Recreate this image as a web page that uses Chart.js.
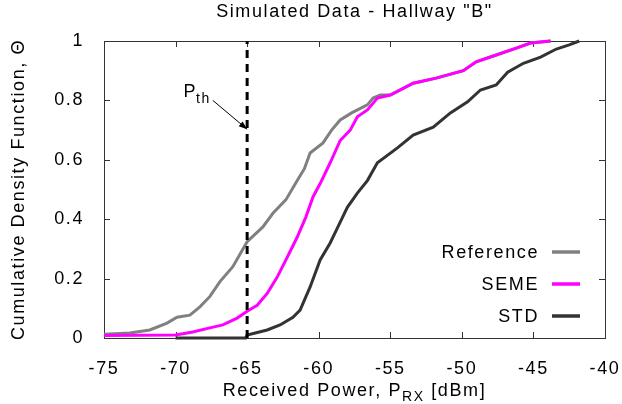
<!DOCTYPE html>
<html>
<head>
<meta charset="utf-8">
<script src="https://cdn.jsdelivr.net/npm/chart.js@4.4.0/dist/chart.umd.min.js"></script>
<style>
  html, body { margin: 0; padding: 0; background: #fff; }
  #wrap { width: 622px; height: 404px; }
</style>
</head>
<body>
<div id="wrap"><canvas id="cdfChart" width="622" height="404"></canvas></div>
<script>
// values (x in dBm, y = CDF)
const refX = [-75, -73.2, -71.8, -70.6, -69.9, -69.0, -68.3, -67.6, -66.9, -66.0, -65.0, -63.9, -63.2, -62.3, -61.5, -61.0, -60.6, -59.7, -59.1, -58.5, -57.7, -56.6, -56.2, -55.7, -55.0, -53.4, -51.8, -49.9, -49.0, -47.6, -46.2, -45.2, -43.8];
const refY = [0.013, 0.017, 0.027, 0.05, 0.07, 0.077, 0.105, 0.14, 0.19, 0.24, 0.324, 0.374, 0.42, 0.465, 0.53, 0.57, 0.623, 0.657, 0.70, 0.734, 0.758, 0.785, 0.808, 0.818, 0.818, 0.858, 0.875, 0.90, 0.93, 0.953, 0.976, 0.993, 1.0];

const semeX = [-75, -70, -68.8, -67.6, -66.7, -65.7, -65.0, -64.3, -63.6, -62.9, -62.2, -61.5, -60.9, -60.4, -59.9, -59.2, -58.5, -57.8, -57.3, -56.6, -55.9, -55.0, -53.4, -51.8, -49.9, -49.0, -47.6, -46.2, -45.2, -43.8];
const semeY = [0.008, 0.01, 0.02, 0.034, 0.044, 0.067, 0.09, 0.11, 0.15, 0.205, 0.272, 0.34, 0.407, 0.475, 0.52, 0.59, 0.665, 0.70, 0.745, 0.768, 0.808, 0.818, 0.858, 0.875, 0.90, 0.93, 0.953, 0.976, 0.993, 1.0];

const stdX = [-70, -65.1, -65, -63.6, -62.7, -61.8, -61.3, -60.6, -59.9, -59.2, -58.7, -58.0, -57.3, -56.6, -55.9, -54.5, -53.4, -52.0, -50.8, -49.6, -48.7, -47.6, -46.8, -45.7, -44.5, -43.4, -42.5, -41.8];
const stdY = [0, 0, 0.01, 0.027, 0.044, 0.07, 0.094, 0.172, 0.263, 0.32, 0.37, 0.44, 0.488, 0.53, 0.59, 0.64, 0.683, 0.71, 0.758, 0.795, 0.835, 0.852, 0.895, 0.925, 0.946, 0.973, 0.987, 1.0];

const seriesNames = ["Reference", "SEME", "STD"];
const seriesColors = ["#808080", "#ff00ff", "#333333"];

const pthValue = -65;
const pthLine = [0, 1];

const xMin = -75, xMax = -40, xStep = 5;
const yMin = 0, yMax = 1, yStep = 0.2;

const titleText = "Simulated Data - Hallway \"B\"";
const yTitle = "Cumulative Density Function, \u0398";

const toPoints = (xs, ys) => xs.map((x, i) => ({x: x, y: ys[i]}));

const FONT = "'Liberation Sans', Arial, sans-serif";
const SPACING = "1.6px";

const setSpacing = (chart) => {
  chart.ctx.letterSpacing = SPACING;
};

const overlay = {
  id: "overlay",
  beforeUpdate(chart) {
    setSpacing(chart);
  },
  beforeDraw(chart) {
    setSpacing(chart);
  },
  beforeDatasetsDraw(chart) {
    const ctx = chart.ctx;
    const a = chart.chartArea;
    const xs = chart.scales.x;
    const ys = chart.scales.y;
    ctx.save();
    ctx.strokeStyle = "#333";
    ctx.lineWidth = 1;
    ctx.strokeRect(a.left + 0.5, a.top + 0.5, a.right - a.left, a.bottom - a.top);
    ctx.beginPath();
    xs.ticks.forEach((t) => {
      const px = Math.round(xs.getPixelForValue(t.value)) + 0.5;
      ctx.moveTo(px, a.bottom);
      ctx.lineTo(px, a.bottom - 6);
      ctx.moveTo(px, a.top);
      ctx.lineTo(px, a.top + 6);
    });
    ys.ticks.forEach((t) => {
      const py = Math.round(ys.getPixelForValue(t.value)) + 0.5;
      ctx.moveTo(a.left, py);
      ctx.lineTo(a.left + 6, py);
      ctx.moveTo(a.right, py);
      ctx.lineTo(a.right - 6, py);
    });
    ctx.stroke();
    ctx.restore();
  },
  afterDraw(chart) {
    const ctx = chart.ctx;
    const a = chart.chartArea;
    const xs = chart.scales.x;
    const ys = chart.scales.y;
    const cx = (a.left + a.right) / 2;
    ctx.save();
    ctx.letterSpacing = SPACING;
    ctx.fillStyle = "#000";
    ctx.textBaseline = "alphabetic";

    // title
    ctx.font = "18px " + FONT;
    ctx.textAlign = "center";
    ctx.fillText(titleText, cx, 17);

    // y axis title
    ctx.save();
    ctx.translate(24, (a.top + a.bottom) / 2);
    ctx.rotate(-Math.PI / 2);
    ctx.fillText(yTitle, 0, 0);
    ctx.restore();

    // x axis title with subscript
    const p1 = "Received Power, P";
    const sub = "RX";
    const p2 = " [dBm]";
    ctx.textAlign = "left";
    ctx.font = "18px " + FONT;
    const w1 = ctx.measureText(p1).width;
    const w3 = ctx.measureText(p2).width;
    ctx.font = "14px " + FONT;
    const w2 = ctx.measureText(sub).width;
    const x0 = cx - (w1 + w2 + w3) / 2;
    const base = 396;
    ctx.font = "18px " + FONT;
    ctx.fillText(p1, x0, base);
    ctx.font = "14px " + FONT;
    ctx.fillText(sub, x0 + w1, base + 5);
    ctx.font = "18px " + FONT;
    ctx.fillText(p2, x0 + w1 + w2, base);

    // P_th annotation with arrow
    const lx = xs.getPixelForValue(-69.45);
    const ly = ys.getPixelForValue(0.81);
    ctx.font = "18px " + FONT;
    ctx.fillText("P", lx, ly);
    const wp = ctx.measureText("P").width;
    ctx.font = "14px " + FONT;
    ctx.fillText("th", lx + wp - 1, ly + 6);

    const ax0 = xs.getPixelForValue(-67.4);
    const ay0 = ys.getPixelForValue(0.80);
    const ax1 = xs.getPixelForValue(pthValue);
    const ay1 = ys.getPixelForValue(0.703);
    ctx.strokeStyle = "#000";
    ctx.lineWidth = 1;
    ctx.beginPath();
    ctx.moveTo(ax0, ay0);
    ctx.lineTo(ax1, ay1);
    ctx.stroke();
    const ang = Math.atan2(ay1 - ay0, ax1 - ax0);
    const hl = 9, hw = 0.35;
    ctx.beginPath();
    ctx.moveTo(ax1, ay1);
    ctx.lineTo(ax1 - hl * Math.cos(ang - hw), ay1 - hl * Math.sin(ang - hw));
    ctx.lineTo(ax1 - hl * Math.cos(ang + hw), ay1 - hl * Math.sin(ang + hw));
    ctx.closePath();
    ctx.fill();

    // legend, gnuplot style: text then sample line
    ctx.font = "18px " + FONT;
    ctx.textAlign = "right";
    ctx.textBaseline = "middle";
    chart.data.datasets.forEach((ds, i) => {
      if (!ds.inLegend) return;
      const ry = a.bottom - 86 + i * 32;
      ctx.fillText(ds.label, a.right - 66, ry + 1);
      ctx.strokeStyle = ds.borderColor;
      ctx.lineWidth = 3.5;
      ctx.beginPath();
      ctx.moveTo(a.right - 53, ry);
      ctx.lineTo(a.right - 25, ry);
      ctx.stroke();
    });
    ctx.restore();
  },
};

const datasets = [
  {label: seriesNames[0], data: toPoints(refX, refY), borderColor: seriesColors[0], order: 4, inLegend: true},
  {label: seriesNames[1], data: toPoints(semeX, semeY), borderColor: seriesColors[1], order: 3, inLegend: true},
  {label: seriesNames[2], data: toPoints(stdX, stdY), borderColor: seriesColors[2], order: 2, inLegend: true},
  {label: "Pth", data: pthLine.map((y) => ({x: pthValue, y: y})), borderColor: "#000", borderDash: [8, 6], order: 1, inLegend: false},
].map((d) => Object.assign({
  showLine: true,
  pointRadius: 0,
  borderWidth: 3,
  fill: false,
  tension: 0,
  clip: false,
}, d));

Chart.defaults.font.family = FONT;
Chart.defaults.font.size = 18;
Chart.defaults.color = "#000";

const ctx = document.getElementById("cdfChart").getContext("2d");
const cdfChart = new Chart(ctx, {
  type: "scatter",
  data: {datasets: datasets},
  options: {
    responsive: false,
    devicePixelRatio: 1,
    animation: false,
    layout: {padding: {top: 41, right: 17, left: 0, bottom: 0}},
    plugins: {
      legend: {display: false},
      tooltip: {enabled: false},
      title: {display: false},
    },
    scales: {
      x: {
        type: "linear",
        min: xMin,
        max: xMax,
        grid: {display: false},
        border: {display: false},
        ticks: {stepSize: xStep, padding: 12, maxRotation: 0, autoSkip: false},
        afterFit: (s) => {
          s.height = 66;
          s.paddingLeft = 0;
          s.paddingRight = 0;
        },
      },
      y: {
        type: "linear",
        min: yMin,
        max: yMax,
        grid: {display: false},
        border: {display: false},
        ticks: {
          stepSize: yStep,
          padding: 12,
          callback: (v) => String(+v.toFixed(1)),
        },
        afterFit: (s) => {
          s.width = 104;
          s.paddingTop = 0;
          s.paddingBottom = 0;
        },
      },
    },
  },
  plugins: [overlay],
});
</script>
</body>
</html>
